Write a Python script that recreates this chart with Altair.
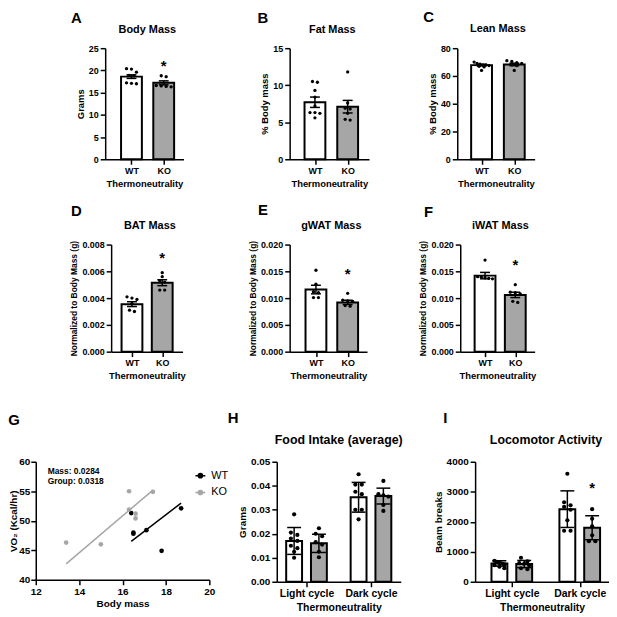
import altair as alt
import pandas as pd

FONT = "Liberation Sans"
GREY = "#a6a6a6"

GENOTYPES = ["WT", "KO"]
CYCLES = ["Light cycle", "Dark cycle"]

# ---------------- A: Body mass (grams) ----------------
body_wt = [20.4, 20.3, 19.6, 18.9, 18.8, 17.2, 17.1, 17.0]
body_ko = [18.8, 18.6, 16.6, 16.5, 16.4, 16.3]
body_mean = [18.6, 17.2]
body_sem = [0.4, 0.45]

# ---------------- B: Fat mass (% body mass) ----------------
fat_wt = [10.5, 10.4, 9.3, 8.4, 7.2, 6.3, 6.2, 6.3, 5.6]
fat_ko = [11.8, 7.6, 6.9, 6.8, 6.2, 5.4, 5.3]
fat_mean = [7.7, 7.1]
fat_sem = [0.7, 0.85]

# ---------------- C: Lean mass (% body mass) ----------------
lean_wt = [70.0, 69.0, 68.5, 68.0, 67.5, 67.0, 66.5, 68.0, 64.0]
lean_ko = [71.0, 70.5, 69.5, 69.0, 68.0, 67.5, 64.0]
lean_mean = [67.8, 68.3]
lean_sem = [0.6, 0.9]

# ---------------- D: BAT mass ----------------
bat_wt = [0.0041, 0.0040, 0.0039, 0.0036, 0.0031, 0.0030]
bat_ko = [0.0059, 0.0056, 0.0053, 0.0052, 0.0046, 0.0046]
bat_mean = [0.00355, 0.00515]
bat_sem = [0.00018, 0.00022]

# ---------------- E: gWAT mass ----------------
gwat_wt = [0.0152, 0.0126, 0.0112, 0.0110, 0.0101, 0.0101]
gwat_ko = [0.0109, 0.0096, 0.0095, 0.0094, 0.0086, 0.0085]
gwat_mean = [0.0116, 0.0092]
gwat_sem = [0.0008, 0.0004]

# ---------------- F: iWAT mass ----------------
iwat_wt = [0.0171, 0.0140, 0.0139, 0.0138, 0.0137, 0.0136]
iwat_ko = [0.0125, 0.0111, 0.0110, 0.0108, 0.0094, 0.0092]
iwat_mean = [0.0142, 0.0106]
iwat_sem = [0.0006, 0.0005]

# ---------------- G: VO2 vs body mass ----------------
vo2_wt_mass = [16.4, 16.5, 16.5, 17.1, 17.8, 18.7]
vo2_wt = [51.3, 48.0, 47.8, 48.4, 44.9, 52.1]
vo2_ko_mass = [13.4, 15.0, 16.3, 16.3, 16.6, 16.6, 17.4]
vo2_ko = [46.3, 46.0, 55.0, 51.9, 51.2, 50.4, 54.9]
fit_wt_mass = [16.4, 18.7]
fit_wt_vo2 = [46.5, 53.0]
fit_ko_mass = [13.4, 17.4]
fit_ko_vo2 = [42.7, 55.2]
g_stats = "Mass:  0.0284\nGroup: 0.0318"

# ---------------- H: Food intake (grams) ----------------
food_light_wt = [0.0281, 0.0205, 0.0195, 0.0180, 0.0170, 0.0150, 0.0140, 0.0125, 0.0100]
food_light_ko = [0.0223, 0.0200, 0.0190, 0.0165, 0.0155, 0.0125, 0.0102]
food_dark_wt = [0.0448, 0.0405, 0.0405, 0.0375, 0.0365, 0.0300, 0.0300, 0.0260]
food_dark_ko = [0.0420, 0.0365, 0.0360, 0.0355, 0.0320, 0.0295]
food_mean = [0.0170, 0.0160, 0.0352, 0.0357]
food_sd = [0.0056, 0.0038, 0.0062, 0.0033]

# ---------------- I: Locomotor activity (beam breaks) ----------------
loco_light_wt = [700, 660, 640, 620, 600, 580, 550, 500, 450]
loco_light_ko = [800, 680, 620, 600, 550, 450, 420]
loco_dark_wt = [3600, 2650, 2550, 2500, 2400, 2050, 1700, 1700]
loco_dark_ko = [2420, 2100, 1850, 1550, 1350, 1350]
loco_mean = [610, 590, 2420, 1800]
loco_sd = [90, 120, 610, 400]


def beeswarm(vals, thr, dx, maxhalf):
    idx = sorted(range(len(vals)), key=lambda i: (-vals[i], i))
    clusters = [[idx[0]]]
    for i in idx[1:]:
        if vals[clusters[-1][0]] - vals[i] <= thr:
            clusters[-1].append(i)
        else:
            clusters.append([i])
    offs = [0.0] * len(vals)
    for c in clusters:
        k = len(c)
        d = dx if k == 1 else min(dx, 2 * maxhalf / (k - 1))
        for j, i in enumerate(c):
            offs[i] = (j - (k - 1) / 2) * d
    return offs


def spacer(w):
    return alt.Chart(pd.DataFrame({"a": [0]})).mark_point(size=1, opacity=0).encode(
        x=alt.value(0), y=alt.value(0)
    ).properties(width=w, height=1)


def text_layer(txt, x, y, size, weight="bold", align="center", baseline="middle"):
    return alt.Chart(pd.DataFrame({"t": [txt]})).mark_text(
        font=FONT, fontSize=size, fontWeight=weight, color="black",
        align=align, baseline=baseline, lineBreak="\n", lineHeight=size + 2
    ).encode(text="t:N", x=alt.value(x), y=alt.value(y))


def bar_panel(letter, title, ytitle, ydom, yvals, yfmt, tick_labels, bar_pos,
              means, errs, fills, pts, star, lead, step, trail, h,
              letter_xy, title_xy, sz):
    tick_pos = [1, 2]
    w = lead + step + trail
    xdom = [1 - lead / step, 2 + trail / step]
    bh = sz["bar_half"] / step
    ch = sz["cap_half"] / step
    bars = pd.DataFrame({"pos": bar_pos, "mean": means, "err": errs, "fill": fills})
    bars["x1"] = bars["pos"] - bh
    bars["x2"] = bars["pos"] + bh
    bars["zero"] = 0.0
    bars["lo"] = bars["mean"] - bars["err"]
    bars["hi"] = bars["mean"] + bars["err"]
    caps = pd.DataFrame({
        "c1": list(bars["pos"] - ch) * 2,
        "c2": list(bars["pos"] + ch) * 2,
        "yv": list(bars["lo"]) + list(bars["hi"]),
    })
    span = ydom[1] - ydom[0]
    rows = []
    for bi, vals in pts:
        offs = beeswarm(vals, 0.035 * span, sz["gap"] / step, (sz["bar_half"] - 3) / step)
        for v, o in zip(vals, offs):
            rows.append({"px": bar_pos[bi] + o, "value": v})
    pdf = pd.DataFrame(rows)

    expr = "''"
    for p, lab in reversed(list(zip(tick_pos, tick_labels))):
        expr = f"abs(datum.value - {p}) < 0.01 ? '{lab}' : {expr}"

    xs = alt.Scale(domain=xdom, nice=False, zero=False)
    ys = alt.Scale(domain=ydom, nice=False, zero=False)
    xaxis = alt.Axis(values=tick_pos, labelExpr=expr, title="Thermoneutrality",
                     labelFontSize=sz["xlab"], titleFontSize=sz["xtitle"],
                     labelOverlap=False, labelFlush=False)
    yaxis = alt.Axis(values=yvals, format=yfmt, title=ytitle,
                     labelFontSize=sz["ylab"], titleFontSize=sz["ytitle"])

    def X(f):
        return alt.X(f, type="quantitative", scale=xs, axis=xaxis)

    def Y(f):
        return alt.Y(f, type="quantitative", scale=ys, axis=yaxis)

    bar = alt.Chart(bars).mark_bar(stroke="black", strokeWidth=2).encode(
        x=X("x1"), x2="x2", y=Y("mean"), y2="zero",
        fill=alt.Fill("fill:N", scale=None),
    )
    err = alt.Chart(bars).mark_rule(color="black", strokeWidth=1.5).encode(
        x=X("pos"), y=Y("lo"), y2="hi",
    )
    cap = alt.Chart(caps).mark_rule(color="black", strokeWidth=1.5).encode(
        x=X("c1"), x2="c2", y=Y("yv"),
    )
    dots = alt.Chart(pdf).mark_circle(color="black", opacity=1, size=sz["pt"]).encode(
        x=X("px"), y=Y("value"),
    )
    layers = [bar, err, cap, dots]
    if star is not None:
        sdf = pd.DataFrame({"pos": [bar_pos[star[0]]], "sv": [star[1]], "t": ["*"]})
        layers.append(alt.Chart(sdf).mark_text(
            font=FONT, fontSize=sz["star"], fontWeight="bold", color="black",
            baseline="middle", dy=1
        ).encode(x=X("pos"), y=Y("sv"), text="t:N"))
    layers.append(text_layer(letter, letter_xy[0], letter_xy[1], sz["letter"]))
    layers.append(text_layer(title, w / 2 + title_xy[0], title_xy[1], sz["ptitle"]))
    return alt.layer(*layers).properties(width=w, height=h)


SMALL = dict(bar_half=10.5, cap_half=5, gap=5, pt=11, xlab=9, xtitle=9.5, ylab=9,
             ytitle=9.5, star=15, letter=15, ptitle=11)
SMALL_N = dict(SMALL, ytitle=8.5)
BIG = dict(bar_half=8, cap_half=7, gap=6.5, pt=18, xlab=10.5, xtitle=10.5, ylab=10,
           ytitle=10, star=15, letter=15, ptitle=12.5)

two = [1, 2]
fills2 = ["white", GREY]

A = bar_panel("A", "Body Mass", "Grams", [0, 25], [0, 5, 10, 15, 20, 25], "d", GENOTYPES,
              two, body_mean, body_sem, fills2, [(0, body_wt), (1, body_ko)], (1, 21.3),
              26.5, 32.5, 20, 112, (-29, -30), (3, -18), SMALL)
B = bar_panel("B", "Fat Mass", "% Body mass", [0, 15], [0, 5, 10, 15], "d", GENOTYPES,
              two, fat_mean, fat_sem, fills2, [(0, fat_wt), (1, fat_ko)], None,
              25.5, 33, 21.5, 112, (-27, -30), (3, -18), SMALL)
C = bar_panel("C", "Lean Mass", "% Body mass", [0, 80], [0, 20, 40, 60, 80], "d", GENOTYPES,
              two, lean_mean, lean_sem, fills2, [(0, lean_wt), (1, lean_ko)], None,
              24.5, 33, 20.5, 112, (-29, -31), (2, -19), SMALL)
D = bar_panel("D", "BAT Mass", "Normalized to Body Mass (g)", [0, 0.008],
              [0, 0.002, 0.004, 0.006, 0.008], ".3f", GENOTYPES,
              two, bat_mean, bat_sem, fills2, [(0, bat_wt), (1, bat_ko)], (1, 0.0071),
              21, 30.5, 20.5, 108, (-35, -34), (3, -19), SMALL_N)
E = bar_panel("E", "gWAT Mass", "Normalized to Body Mass (g)", [0, 0.02],
              [0, 0.005, 0.01, 0.015, 0.02], ".3f", GENOTYPES,
              two, gwat_mean, gwat_sem, fills2, [(0, gwat_wt), (1, gwat_ko)], (1, 0.0147),
              26.5, 32, 19.5, 108, (-27, -35), (3, -19), SMALL_N)
F = bar_panel("F", "iWAT Mass", "Normalized to Body Mass (g)", [0, 0.02],
              [0, 0.005, 0.01, 0.015, 0.02], ".3f", GENOTYPES,
              two, iwat_mean, iwat_sem, fills2, [(0, iwat_wt), (1, iwat_ko)], (1, 0.0163),
              25, 30.5, 19.5, 108, (-32, -33), (3, -19), SMALL_N)

h_off = 12.5 / 65
H = bar_panel("H", "Food Intake (average)", "Grams", [0, 0.05],
              [0, 0.01, 0.02, 0.03, 0.04, 0.05], ".2f", CYCLES,
              [1 - h_off, 1 + h_off, 2 - h_off, 2 + h_off], food_mean, food_sd,
              ["white", GREY, "white", GREY],
              [(0, food_light_wt), (1, food_light_ko), (2, food_dark_wt), (3, food_dark_ko)],
              None, 30, 65, 30, 121, (-44, -44), (0, -22), BIG)
i_off = 12.5 / 68.5
I = bar_panel("I", "Locomotor Activity", "Beam breaks", [0, 4000],
              [0, 1000, 2000, 3000, 4000], "d", CYCLES,
              [1 - i_off, 1 + i_off, 2 - i_off, 2 + i_off], loco_mean, loco_sd,
              ["white", GREY, "white", GREY],
              [(0, loco_light_wt), (1, loco_light_ko), (2, loco_dark_wt), (3, loco_dark_ko)],
              (3, 3150), 37, 68.5, 29.5, 121, (-30, -44), (4, -22), BIG)

# ---------------- G panel ----------------
g_pts = pd.DataFrame({
    "mass": vo2_wt_mass + vo2_ko_mass,
    "vo2": vo2_wt + vo2_ko,
    "genotype": ["WT"] * len(vo2_wt) + ["KO"] * len(vo2_ko),
})
g_fit = pd.DataFrame({
    "mass": fit_wt_mass + fit_ko_mass,
    "vo2": fit_wt_vo2 + fit_ko_vo2,
    "genotype": ["WT"] * 2 + ["KO"] * 2,
})
gx = alt.Scale(domain=[12, 20], nice=False, zero=False)
gy = alt.Scale(domain=[40, 60], nice=False, zero=False)
gxaxis = alt.Axis(values=[12, 14, 16, 18, 20], title="Body mass", format="d",
                  labelFontSize=10, titleFontSize=10, titlePadding=2, labelFlush=False)
gyaxis = alt.Axis(values=[40, 45, 50, 55, 60], title="VO₂ (Kcal/hr)", format="d",
                  labelFontSize=10, titleFontSize=10, titlePadding=0, labelPadding=1,
                  labelFlush=False)
gcol = alt.Scale(domain=GENOTYPES, range=["black", GREY])
sym = "M-1,0H1M0.42,0A0.42,0.42,0,1,1,-0.42,0A0.42,0.42,0,1,1,0.42,0Z"
glegend = alt.Legend(title=None, orient="none", legendX=160, legendY=8, symbolType=sym,
                     symbolSize=100, symbolStrokeWidth=1.5, labelFont=FONT,
                     labelFontSize=11, labelFontWeight="normal", labelColor="black",
                     labelOffset=5, rowPadding=5, padding=0)
g_line = alt.Chart(g_fit).mark_line(strokeWidth=1.5).encode(
    x=alt.X("mass:Q", scale=gx, axis=gxaxis),
    y=alt.Y("vo2:Q", scale=gy, axis=gyaxis),
    color=alt.Color("genotype:N", scale=gcol, legend=glegend),
)
g_dots = alt.Chart(g_pts).mark_circle(size=22, opacity=1).encode(
    x=alt.X("mass:Q", scale=gx, axis=gxaxis),
    y=alt.Y("vo2:Q", scale=gy, axis=gyaxis),
    color=alt.Color("genotype:N", scale=gcol, legend=glegend),
)
G = alt.layer(
    g_line, g_dots,
    text_layer(g_stats, 12, 5, 8.5, align="left", baseline="top"),
    text_layer("G", -22, -42, 15),
).properties(width=175, height=119)

row1 = alt.hconcat(spacer(96), A, spacer(107), B, spacer(89), C, spacing=0, bounds="flush")
row2 = alt.hconcat(spacer(102), D, spacer(108), E, spacer(94), F, spacing=0, bounds="flush")
row3 = alt.hconcat(spacer(26), G, spacer(68), H, spacer(75), I, spacing=0,
                   bounds="flush").resolve_scale(color="independent")

chart = alt.vconcat(
    alt.vconcat(row1, row2, spacing=15), row3, spacing=31
).resolve_scale(color="independent").properties(padding=0).configure_view(
    stroke=None
).configure_axis(
    domainColor="black", domainWidth=1.5, tickColor="black", tickWidth=1.5, tickSize=5,
    labelColor="black", titleColor="black", labelFont=FONT, titleFont=FONT,
    labelFontWeight="bold", titleFontWeight="bold", grid=False,
    labelPadding=2, titlePadding=3,
)

chart.save("out.html", embed_options={"renderer": "svg", "actions": False})
